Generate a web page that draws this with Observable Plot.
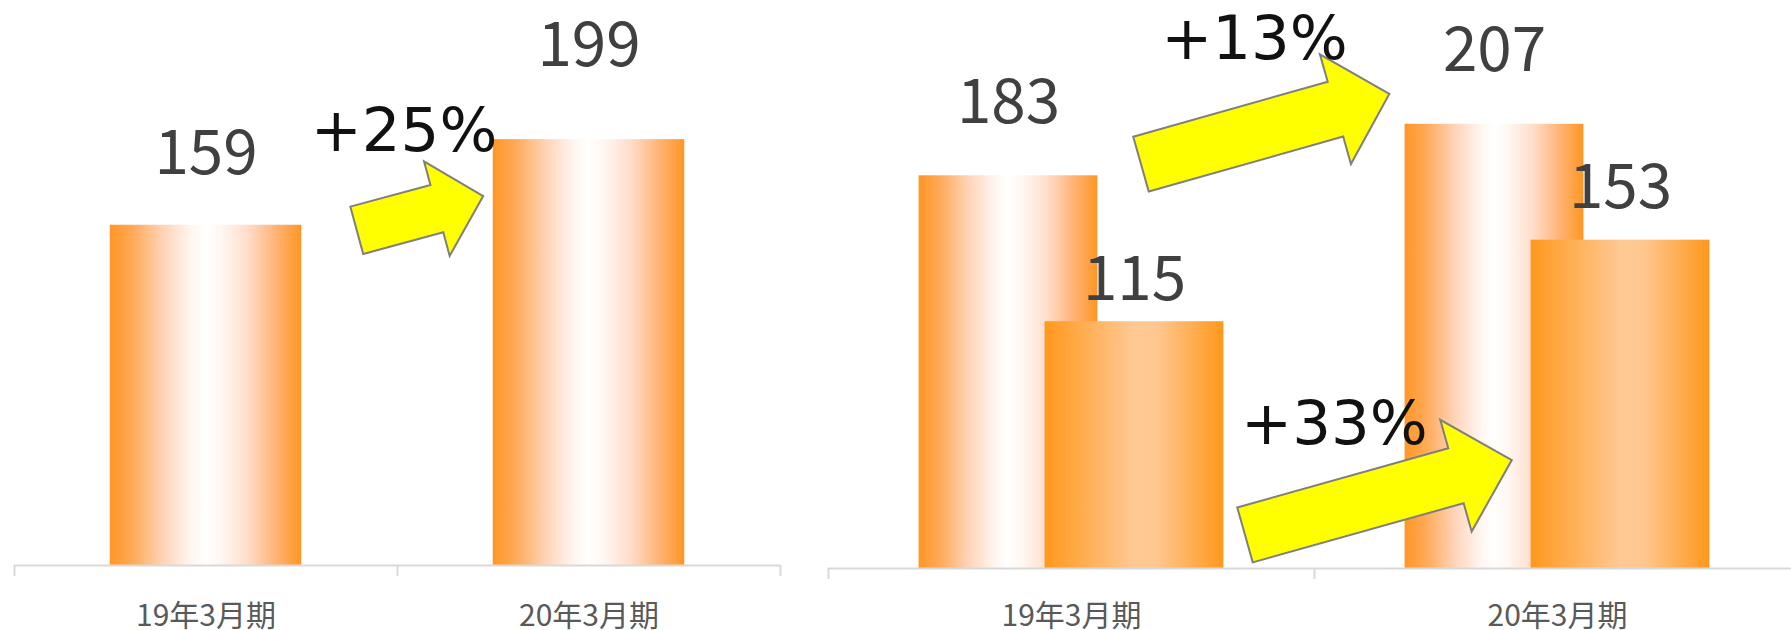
<!DOCTYPE html>
<html><head><meta charset="utf-8">
<script src="https://cdn.jsdelivr.net/npm/d3@7"></script>
<script src="https://cdn.jsdelivr.net/npm/@observablehq/plot@0.6"></script>
<style>
html,body{margin:0;padding:0;background:#fff;overflow:hidden;width:1791px;height:630px;}
#wrap{position:relative;width:1791px;height:630px;overflow:hidden;}
#left{position:absolute;left:0;top:0;width:800px;height:630px;}
#right{position:absolute;left:800px;top:0;width:1000px;height:630px;}
g[aria-label="pct"] text{filter:url(#pctShadow);}
</style></head><body>
<svg width="0" height="0" style="position:absolute;left:0;top:0">
  <defs>
    <linearGradient id="gradA" x1="0" x2="1" y1="0" y2="0">
      <stop offset="0" stop-color="#FF9624"/>
      <stop offset="0.12" stop-color="#FFAA58"/>
      <stop offset="0.28" stop-color="#FFD4B8"/>
      <stop offset="0.42" stop-color="#FFF5EF"/>
      <stop offset="0.5" stop-color="#FFFFFF"/>
      <stop offset="0.58" stop-color="#FFF7F2"/>
      <stop offset="0.72" stop-color="#FFDDCA"/>
      <stop offset="0.87" stop-color="#FFB373"/>
      <stop offset="1" stop-color="#FF9624"/>
    </linearGradient>
    <linearGradient id="gradB" x1="0" x2="1" y1="0" y2="0">
      <stop offset="0" stop-color="#FF981C"/>
      <stop offset="0.5" stop-color="#FFC994"/>
      <stop offset="0.62" stop-color="#FFC892"/>
      <stop offset="1" stop-color="#FF981C"/>
    </linearGradient>
    <filter id="pctShadow" x="-20%" y="-30%" width="140%" height="160%">
      <feDropShadow dx="2" dy="3" stdDeviation="2" flood-color="#000000" flood-opacity="0.4"/>
    </filter>
  </defs>
</svg>
<div id="wrap"><div id="left"></div><div id="right"></div></div>
<script>
// ---- data ----
const categories = ["19年3月期", "20年3月期"];
const leftValues = [159, 199];
const rightSeriesA = [183, 207];
const rightSeriesB = [115, 153];

// ---- layout (annotation geometry, in chart units; sizes in px) ----
const leftLift = [51, 74];
const rightLiftA = [53, 53];
const rightLiftB = [22, 32];
const leftArrowLayout = [{x1: 0.395, y1: 156.4, x2: 0.725, y2: 172.4, w: 49, hw: 98, head: 48, lx: 0.517, ly: 193.5}];
const rightArrowLayout = [
  {series: "A", x1: 0.144, y1: 188.2, x2: 0.655, y2: 220.9, w: 57, hw: 114, head: 56, lx: 0.3765, ly: 237.2},
  {series: "B", x1: 0.358, y1: 15.4, x2: 0.907, y2: 50.3, w: 57, hw: 116, head: 58, lx: 0.541, ly: 58.2}
];

const pctFmt = d3.format("+.0%");
const leftRows = categories.map((c, i) => ({i, category: c, value: leftValues[i]}));
const rowsA = categories.map((c, i) => ({i, category: c, value: rightSeriesA[i]}));
const rowsB = categories.map((c, i) => ({i, category: c, value: rightSeriesB[i]}));

const leftPct = leftArrowLayout.map(a => ({x: a.lx, y: a.ly, label: pctFmt(leftValues[1] / leftValues[0] - 1)}));
const rightPct = rightArrowLayout.map(a => {
  const s = a.series === "A" ? rightSeriesA : rightSeriesB;
  return {x: a.lx, y: a.ly, label: pctFmt(s[1] / s[0] - 1)};
});

function arrowMark(arrows) {
  return (index, scales) => {
    const g = d3.create("svg:g").attr("aria-label", "arrows");
    for (const a of arrows) {
      const tx = scales.x(a.x1), ty = scales.y(a.y1), px = scales.x(a.x2), py = scales.y(a.y2);
      const dx = px - tx, dy = py - ty, L = Math.hypot(dx, dy);
      const ux = dx / L, uy = dy / L, nx = -uy, ny = ux;
      const bx = px - ux * a.head, by = py - uy * a.head;
      const pts = [
        [tx + nx * a.w / 2, ty + ny * a.w / 2],
        [bx + nx * a.w / 2, by + ny * a.w / 2],
        [bx + nx * a.hw / 2, by + ny * a.hw / 2],
        [px, py],
        [bx - nx * a.hw / 2, by - ny * a.hw / 2],
        [bx - nx * a.w / 2, by - ny * a.w / 2],
        [tx - nx * a.w / 2, ty - ny * a.w / 2]
      ];
      g.append("polygon")
        .attr("points", pts.map(p => p.join(",")).join(" "))
        .attr("fill", "#FFFF00")
        .attr("stroke", "#7F7F7F")
        .attr("stroke-width", 2)
        .attr("stroke-linejoin", "miter");
    }
    return g.node();
  };
}

const baseStyle = {fontFamily: "'Noto Sans CJK JP', sans-serif", background: "transparent", overflow: "visible", maxWidth: "none"};
const barHalf = 0.25;
const valueFont = 62, catFont = 30, pctFont = 61;

const leftPlot = Plot.plot({
  width: 800, height: 630,
  marginLeft: 14, marginRight: 20, marginTop: 30, marginBottom: 65,
  x: {type: "linear", domain: [-0.5, 1.5]},
  y: {domain: [0, 250], axis: null},
  style: baseStyle,
  marks: [
    Plot.rect(leftRows, {x1: d => d.i - barHalf, x2: d => d.i + barHalf, y1: 0, y2: "value", fill: "url(#gradA)"}),
    Plot.ruleY([0], {stroke: "#D9D9D9", strokeWidth: 2}),
    Plot.axisX({ticks: [-0.5, 0.5, 1.5], tickSize: 11, tickFormat: () => "", color: "#D9D9D9", strokeWidth: 2, label: null}),
    Plot.axisX({ticks: [0, 1], tickSize: 0, tickPadding: 39, tickFormat: i => categories[i], fontSize: catFont, color: "#595959", label: null}),
    ...leftRows.map((d, k) => Plot.text([d], {x: "i", y: "value", text: r => String(r.value), dy: -leftLift[k], lineAnchor: "bottom", fontSize: valueFont, fill: "#404040"})),
    arrowMark(leftArrowLayout),
    Plot.text(leftPct, {x: "x", y: "y", text: "label", lineAnchor: "bottom", fontSize: pctFont, fontFamily: "DejaVu Sans", fill: "#111111", ariaLabel: "pct"})
  ]
});
document.getElementById("left").append(leftPlot);

const groupOffset = 0.1296, rHalf = 0.184;
const rightPlot = Plot.plot({
  width: 1000, height: 630,
  marginLeft: 28, marginRight: 0, marginTop: 31.5, marginBottom: 62,
  x: {type: "linear", domain: [-0.5, 1.5]},
  y: {domain: [0, 250], axis: null},
  style: baseStyle,
  marks: [
    Plot.rect(rowsA, {x1: d => d.i - groupOffset - rHalf, x2: d => d.i - groupOffset + rHalf, y1: 0, y2: "value", fill: "url(#gradA)"}),
    Plot.rect(rowsB, {x1: d => d.i + groupOffset - rHalf, x2: d => d.i + groupOffset + rHalf, y1: 0, y2: "value", fill: "url(#gradB)"}),
    Plot.ruleY([0], {stroke: "#D9D9D9", strokeWidth: 2}),
    Plot.axisX({ticks: [-0.5, 0.5, 1.5], tickSize: 11, tickFormat: () => "", color: "#D9D9D9", strokeWidth: 2, label: null}),
    Plot.axisX({ticks: [0, 1], tickSize: 0, tickPadding: 36, tickFormat: i => categories[i], fontSize: catFont, color: "#595959", label: null}),
    ...rowsA.map((d, k) => Plot.text([d], {x: r => r.i - groupOffset, y: "value", text: r => String(r.value), dy: -rightLiftA[k], lineAnchor: "bottom", fontSize: valueFont, fill: "#404040"})),
    ...rowsB.map((d, k) => Plot.text([d], {x: r => r.i + groupOffset, y: "value", text: r => String(r.value), dy: -rightLiftB[k], lineAnchor: "bottom", fontSize: valueFont, fill: "#404040"})),
    arrowMark(rightArrowLayout),
    Plot.text(rightPct, {x: "x", y: "y", text: "label", lineAnchor: "bottom", fontSize: pctFont, fontFamily: "DejaVu Sans", fill: "#111111", ariaLabel: "pct"})
  ]
});
document.getElementById("right").append(rightPlot);
</script>
</body></html>
